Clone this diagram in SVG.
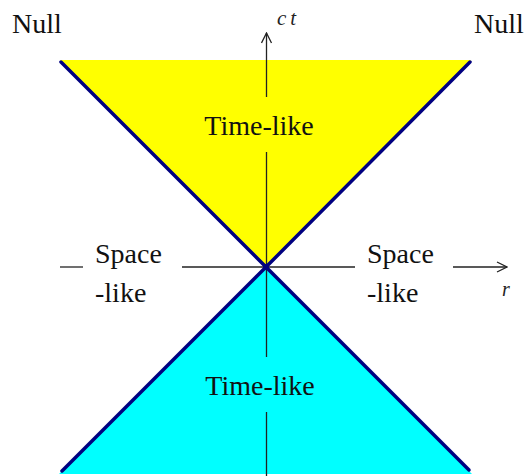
<svg xmlns="http://www.w3.org/2000/svg" width="525" height="476" viewBox="0 0 525 476" font-family="Liberation Serif, serif">
<defs>
<style>
.lbl{font-size:28px;fill:#111}
.ax{stroke:#222;stroke-width:1.3;fill:none}
.cone{stroke:#000080;stroke-width:3.5;stroke-linecap:round;fill:none}
.var{font-style:italic;fill:#222}
</style>
<marker id="arr" viewBox="0 0 12 12" refX="11" refY="6" markerWidth="12" markerHeight="12" markerUnits="userSpaceOnUse" orient="auto">
<path d="M1,1 L11,6 L1,11" fill="none" stroke="#222" stroke-width="1.3"/>
</marker>
</defs>
<rect width="525" height="476" fill="#fff"/>
<g id="future-cone">
<polygon points="60,60 471,60 266,267" fill="#ffff00"/>
</g>
<g id="past-cone">
<polygon points="266,267 59,474 472,474" fill="#00ffff"/>
</g>
<g id="connectors">
<line class="ax" x1="266.5" y1="97" x2="266.5" y2="33" marker-end="url(#arr)"/>
<line class="ax" x1="266.5" y1="152" x2="266.5" y2="357"/>
<line class="ax" x1="266.5" y1="412" x2="266.5" y2="476"/>
<line class="ax" x1="60" y1="267" x2="83" y2="267"/>
<line class="ax" x1="182" y1="267" x2="355" y2="267"/>
<line class="ax" x1="453" y1="267" x2="507" y2="267" marker-end="url(#arr)"/>
<line class="cone" x1="61" y1="62" x2="266" y2="267"/>
<line class="cone" x1="470" y1="62" x2="266" y2="267"/>
<line class="cone" x1="266" y1="267" x2="62" y2="471"/>
<line class="cone" x1="266" y1="267" x2="469" y2="470"/>
<circle cx="266" cy="267" r="3" fill="#000080"/>
</g>
<g id="null-left"><text class="lbl" style="font-family:'Liberation Serif',serif" x="12" y="33">Null</text></g>
<g id="null-right"><text class="lbl" style="font-family:'Liberation Serif',serif" x="474" y="33">Null</text></g>
<g id="ct-label"><text class="var" style="font-family:'Liberation Serif',serif" x="277" y="25" font-size="21" letter-spacing="4">ct</text></g>
<g id="r-label"><text class="var" style="font-family:'Liberation Serif',serif" x="502" y="296" font-size="20">r</text></g>
<g id="timelike-future"><text class="lbl" style="font-family:'Liberation Serif',serif" x="259" y="135" text-anchor="middle">Time-like</text></g>
<g id="timelike-past"><text class="lbl" style="font-family:'Liberation Serif',serif" x="260" y="395" text-anchor="middle">Time-like</text></g>
<g id="spacelike-left"><text class="lbl" style="font-family:'Liberation Serif',serif" x="95" y="263">Space</text><text class="lbl" style="font-family:'Liberation Serif',serif" x="95" y="302">-like</text></g>
<g id="spacelike-right"><text class="lbl" style="font-family:'Liberation Serif',serif" x="367" y="263">Space</text><text class="lbl" style="font-family:'Liberation Serif',serif" x="367" y="302">-like</text></g>
</svg>
